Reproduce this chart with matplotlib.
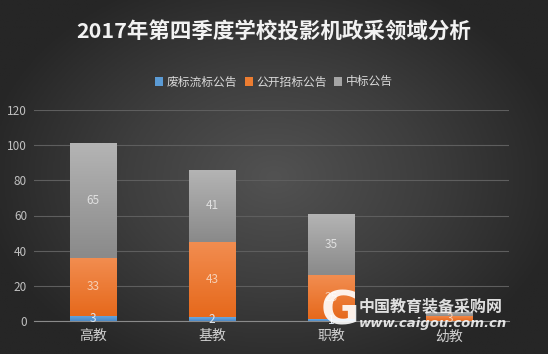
import numpy as np
import matplotlib
matplotlib.use("Agg")
import matplotlib.pyplot as plt
from matplotlib.colors import LinearSegmentedColormap

plt.rcParams['font.family'] = ['Noto Sans CJK SC', 'DejaVu Sans']

title = "2017年第四季度学校投影机政采领域分析"
categories = ["高教", "基教", "职教", "幼教"]
series_names = ["废标流标公告", "公开招标公告", "中标公告"]
abandoned = [3, 2, 1, 0]
open_tender = [33, 43, 25, 3]
awarded = [65, 41, 35, 2]
yticks = [0, 20, 40, 60, 80, 100, 120]

W, H = 548, 354
fig = plt.figure(figsize=(W / 100, H / 100), dpi=100)

# radial gradient background
bg = fig.add_axes([0, 0, 1, 1], zorder=-10)
yy, xx = np.mgrid[0:1:200j, 0:1:300j]
r = np.sqrt(((xx - 0.5) / 0.75) ** 2 + ((yy - 0.5) / 0.85) ** 2)
bgcm = LinearSegmentedColormap.from_list("bg", ["#525252", "#3e3e3e", "#262626"])
bg.imshow(r, cmap=bgcm, aspect="auto", extent=[0, 1, 0, 1], vmin=0, vmax=0.72)
bg.axis("off")

ax = fig.add_axes([34 / W, 1 - 321 / H, (509 - 34) / W, (321 - 110) / H])
ax.set_facecolor("none")

x = np.arange(len(categories))
width = 0.39
colors = ["#5b9bd5", "#ed7d31", "#a5a5a5"]
grads = [("#6aa8e0", "#4a8ac8"), ("#f28d50", "#e6691c"), ("#b4b4b4", "#8a8a8a")]
label_colors = ["#dfe8f2", "#f6d0b6", "#e0e0e0"]

bottom = np.zeros(len(categories))
for si, (vals, c, g, lc, name) in enumerate(zip([abandoned, open_tender, awarded], colors, grads, label_colors, series_names)):
    vals = np.array(vals, dtype=float)
    bars = ax.bar(x, vals, width, bottom=bottom, color=c, label=name, zorder=3)
    cm = LinearSegmentedColormap.from_list("g", [g[1], g[0]])
    for b, v in zip(bars, vals):
        if v <= 0:
            continue
        x0, y0 = b.get_x(), b.get_y()
        im = ax.imshow(np.linspace(0, 1, 50).reshape(-1, 1), cmap=cm, origin="lower",
                       extent=[x0, x0 + b.get_width(), y0, y0 + b.get_height()],
                       aspect="auto", zorder=3.5)
        im.set_clip_path(b)
        if si == 2 and v < 3:
            continue
        ax.text(b.get_x() + b.get_width() / 2, y0 + v / 2, f"{int(v)}", ha="center", va="center",
                fontsize=8.5, color=lc, zorder=5)
    bottom += vals

ax.set_xlim(-0.5, len(categories) - 0.5)
ax.set_ylim(0, 120)
ax.set_yticks(yticks)
ax.set_xticks(x)
ax.set_xticklabels(categories, fontsize=10, color="#d0d0d0")
ax.tick_params(axis="y", labelsize=8.5, colors="#c0c0c0", length=0, pad=5)
ax.tick_params(axis="x", length=0, pad=6)
ax.grid(axis="y", color="#5e5e5e", linewidth=0.8, zorder=0)
for s in ["top", "right", "left"]:
    ax.spines[s].set_visible(False)
ax.spines["bottom"].set_color("#8a8a8a")
ax.spines["bottom"].set_zorder(4)

fig.text(0.5, 1 - 31 / H, title, ha="center", va="center", fontsize=15.5, fontweight="bold", color="#f2f2f2")

leg = fig.legend(loc="center", bbox_to_anchor=(0.5, 1 - 82 / H), ncol=3, frameon=False,
                 fontsize=8.5, handlelength=0.7, handleheight=0.7, handletextpad=0.3, columnspacing=0.6)
for t in leg.get_texts():
    t.set_color("#d9d9d9")

# watermark
fig.text(359 / W, 1 - 306 / H, "中国教育装备采购网", ha="left", va="center", fontsize=11.5,
         fontweight="bold", color="#ffffff", alpha=0.85, zorder=20)
fig.text(359 / W, 1 - 323 / H, "www.caigou.com.cn", ha="left", va="center", fontsize=9.5,
         fontstyle="italic", fontweight="bold", color="#ffffff", alpha=0.85, zorder=20, family="DejaVu Sans")
fig.text(340 / W, 1 - 312 / H, "G", ha="center", va="center", fontsize=34, fontweight="bold",
         color="#ffffff", alpha=0.9, zorder=20, family="DejaVu Sans")

fig.savefig("out.png", dpi=100)
